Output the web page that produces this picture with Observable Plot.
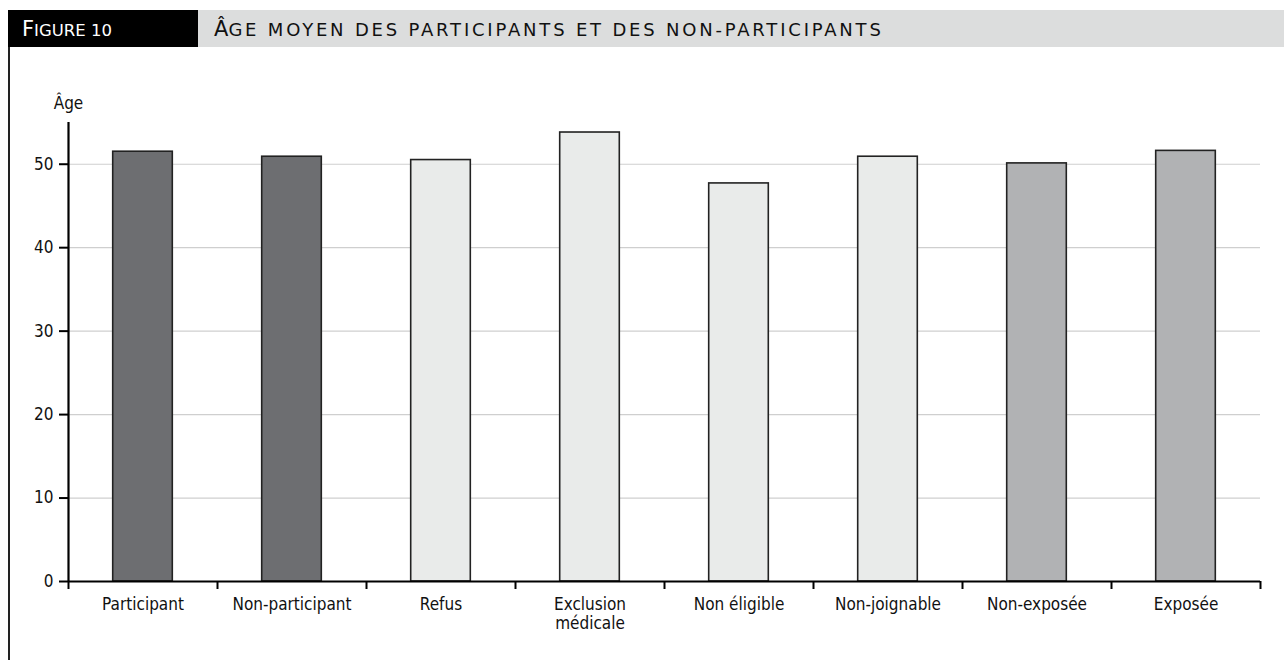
<!DOCTYPE html>
<html>
<head>
<meta charset="utf-8">
<script src="https://cdn.jsdelivr.net/npm/d3@7"></script>
<script src="https://cdn.jsdelivr.net/npm/@observablehq/plot@0.6"></script>
<style>
  html, body { margin: 0; padding: 0; background: #fff; }
  body { width: 1284px; height: 660px; position: relative; overflow: hidden;
         font-family: "DejaVu Sans Condensed", "Open Sans", sans-serif; }
  .hdr { position: absolute; top: 10px; height: 37px; line-height: 39px; box-sizing: border-box;
         font-family: "DejaVu Sans", "Open Sans", sans-serif; white-space: nowrap; }
  #fig { left: 8px; width: 190px; background: #000; color: #fff; padding-left: 14px; }
  #title { left: 198px; right: 0; background: #dcdddd; color: #111; padding-left: 16px; }
  .big { font-size: 21px; }
  #fig .sc { font-size: 16.5px; text-transform: uppercase; letter-spacing: 0px; }
  #title .sc { font-size: 18px; text-transform: uppercase; letter-spacing: 2.8px; }
  #frame { position: absolute; left: 8px; top: 47px; width: 1.5px; height: 613px; background: #222; }
  #chart { position: absolute; left: 0; top: 47px; }
</style>
</head>
<body>
<div class="hdr" id="fig"><span class="big">F</span><span class="sc">igure 10</span></div>
<div class="hdr" id="title"><span class="big">Â</span><span class="sc">ge moyen des participants et des non-participants</span></div>
<div id="frame"></div>
<div id="chart"></div>
<script>
const categories = ["Participant", "Non-participant", "Refus", "Exclusion\nmédicale", "Non éligible", "Non-joignable", "Non-exposée", "Exposée"];
const ages = [51.5, 50.9, 50.5, 53.8, 47.7, 50.9, 50.1, 51.6];
const groups = ["participation", "participation", "refus", "refus", "refus", "refus", "exposition", "exposition"];
const groupNames = ["participation", "refus", "exposition"];
const groupFills = ["#6d6e71", "#e9ebea", "#b1b2b4"];
const yTicks = [0, 10, 20, 30, 40, 50];
const yLabel = "Âge";

const data = categories.map((c, i) => ({i, category: c, age: ages[i], group: groups[i]}));
const font = '"DejaVu Sans Condensed", "Open Sans", sans-serif';

const chart = Plot.plot({
  width: 1284,
  height: 613,
  marginLeft: 68,
  marginRight: 24,
  marginTop: 75,
  marginBottom: 79,
  style: {fontFamily: font, fontSize: "17px", color: "#111", background: "transparent"},
  x: {domain: [0, categories.length], axis: null},
  y: {domain: [0, 55], axis: null},
  color: {domain: groupNames, range: groupFills},
  marks: [
    Plot.gridY(yTicks.filter(t => t > 0), {stroke: "#cfcfcf", strokeOpacity: 1, strokeWidth: 1.2}),
    Plot.rectY(data, {x1: d => d.i + 0.3, x2: d => d.i + 0.7, y1: 0, y2: "age", fill: "group", stroke: "#222", strokeWidth: 1.6}),
    Plot.ruleX([0], {y1: 0, y2: 55, strokeWidth: 2.2, stroke: "#000"}),
    Plot.ruleY([0], {strokeWidth: 2.2, stroke: "#000"}),
    Plot.axisY({ticks: yTicks, tickSize: 9, tickPadding: 6, fontSize: 17, label: null, strokeWidth: 2, stroke: "#000"}),
    Plot.axisX({ticks: d3.range(categories.length + 1), tickSize: 8, tickFormat: () => "", label: null, strokeWidth: 2, stroke: "#000"}),
    Plot.axisX({ticks: categories.map((c, i) => i + 0.5), tickSize: 0, tickPadding: 15, fontSize: 17, label: null,
                tickFormat: t => categories[Math.floor(t)], lineHeight: 1.12}),
    Plot.text([yLabel], {frameAnchor: "top-left", textAnchor: "middle", lineAnchor: "bottom", dy: -14, fontSize: 17})
  ]
});
document.getElementById("chart").appendChild(chart);
</script>
</body>
</html>
